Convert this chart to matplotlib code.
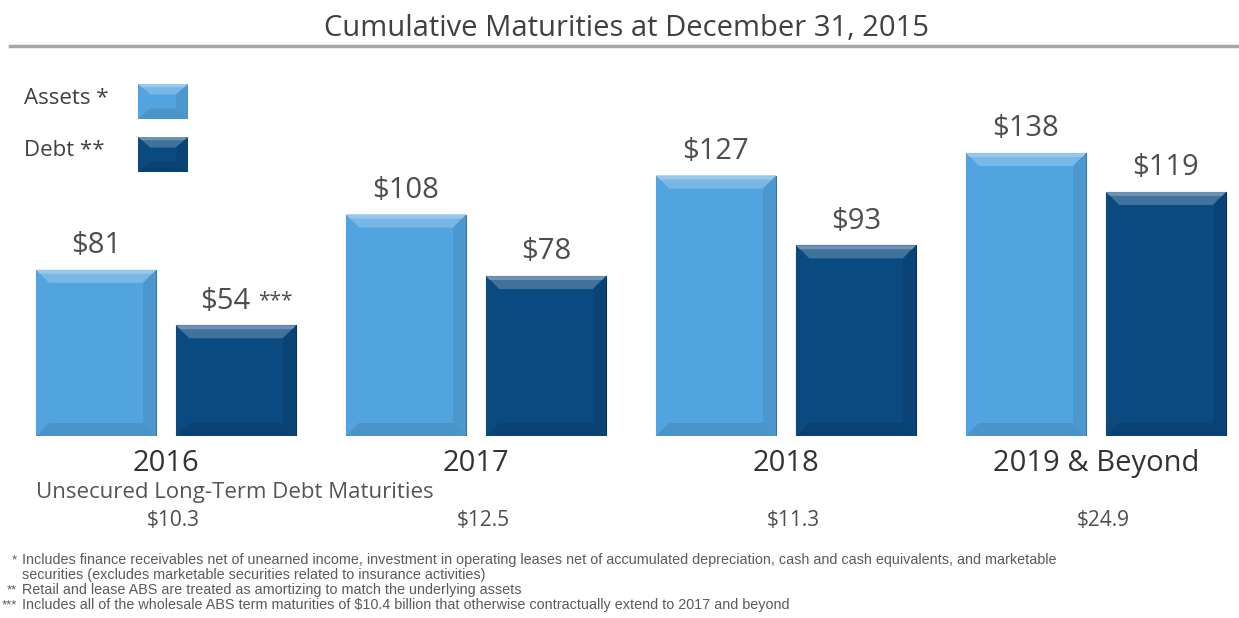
import numpy as np
import matplotlib.pyplot as plt
from matplotlib.patches import Polygon

years = ["2016", "2017", "2018", "2019 & Beyond"]
assets = [81, 108, 127, 138]
debt = [54, 78, 93, 119]
debt_notes = ["***", "", "", ""]
unsecured = ["$10.3", "$12.5", "$11.3", "$24.9"]

footnotes = [
    ("*", "Includes finance receivables net of unearned income, investment in operating leases net of accumulated depreciation, cash and cash equivalents, and marketable"),
    ("", "securities (excludes marketable securities related to insurance activities)"),
    ("**", "Retail and lease ABS are treated as amortizing to match the underlying assets"),
    ("***", "Includes all of the wholesale ABS term maturities of $10.4 billion that otherwise contractually extend to 2017 and beyond"),
]

W, H = 1239, 618
FONT = "Open Sans"
ASSET_C = "#52a4e0"
DEBT_C = "#0b4a80"


def fx(x):
    return x / W


def fy(y):
    return 1 - y / H


def shade(c, f):
    rgb = np.array(plt.matplotlib.colors.to_rgb(c))
    if f > 0:
        rgb = rgb + (1 - rgb) * f
    else:
        rgb = rgb * (1 + f)
    return tuple(np.clip(rgb, 0, 1))


def bevel(ax, rect, color, bx, by):
    # draw a bevelled look on top of a bar patch
    x0, y0 = rect.get_x(), rect.get_y()
    x1, y1 = x0 + rect.get_width(), y0 + rect.get_height()
    faces = [
        ([(x0, y1), (x1, y1), (x1 - bx, y1 - by), (x0 + bx, y1 - by)], 0.22),
        ([(x0, y0), (x0, y1), (x0 + bx, y1 - by), (x0 + bx, y0 + by)], 0.0),
        ([(x1, y0), (x1, y1), (x1 - bx, y1 - by), (x1 - bx, y0 + by)], -0.08),
        ([(x0, y0), (x1, y0), (x1 - bx, y0 + by), (x0 + bx, y0 + by)], -0.1),
    ]
    for pts, f in faces:
        ax.add_patch(Polygon(pts, closed=True, facecolor=shade(color, f),
                             edgecolor="none", zorder=3))
    # thin bright strip on the top edge
    ax.add_patch(Polygon([(x0, y1), (x1, y1), (x1 - bx * 0.3, y1 - by * 0.3),
                          (x0 + bx * 0.3, y1 - by * 0.3)], closed=True,
                         facecolor=shade(color, 0.4), edgecolor="none", zorder=3))
    rect.set_edgecolor(shade(color, -0.3))
    rect.set_linewidth(0.8)


fig = plt.figure(figsize=(W / 100, H / 100), dpi=100)

# plot area: bar bottoms at y=436 px, 310 px per group, 2.05 px per unit
unit_x, unit_y = 310.0, 2.05
x_first = 166.0
ax = fig.add_axes([0, fy(436), 1, (436 - 80) / H])
ax.set_xlim(-x_first / unit_x, (W - x_first) / unit_x)
ax.set_ylim(0, (436 - 80) / unit_y)
ax.axis("off")

idx = np.arange(len(years))
bw = 120 / unit_x
off = 70 / unit_x
bars_a = ax.bar(idx - off, assets, width=bw, color=ASSET_C, zorder=2)
bars_d = ax.bar(idx + off, debt, width=bw, color=DEBT_C, zorder=2)
for r in bars_a:
    bevel(ax, r, ASSET_C, 13 / unit_x, 13 / unit_y)
for r in bars_d:
    bevel(ax, r, DEBT_C, 13 / unit_x, 13 / unit_y)

lab = dict(textcoords="offset points", va="bottom", fontsize=21,
           color="#4d4d4d", family=FONT)
for i in idx:
    ax.annotate(f"${assets[i]}", (i - off, assets[i]), xytext=(0, 7), ha="center", **lab)
    if debt_notes[i]:
        ax.annotate(f"${debt[i]}", (i + off + 14 / unit_x, debt[i]), xytext=(0, 7),
                    ha="right", **lab)
        ax.annotate(debt_notes[i], (i + off + 22 / unit_x, debt[i]), xytext=(0, 10),
                    textcoords="offset points", ha="left", va="bottom",
                    fontsize=15, color="#4d4d4d", family=FONT)
    else:
        ax.annotate(f"${debt[i]}", (i + off, debt[i]), xytext=(0, 7), ha="center", **lab)
    ax.annotate(years[i], (i, 0), xytext=(0, -20), textcoords="offset points",
                ha="center", va="center", fontsize=21, color="#333333", family=FONT)
    ax.annotate(unsecured[i], (i + 0.025, 0), xytext=(0, -61), textcoords="offset points",
                ha="center", va="center", fontsize=15, color="#4d4d4d", family=FONT)

ax.annotate("Unsecured Long-Term Debt Maturities", (-off - bw / 2, 0), xytext=(0, -41),
            textcoords="offset points", ha="left", va="center", fontsize=16,
            color="#555555", family=FONT)

# title and rule
fig.text(fx(627), fy(28), "Cumulative Maturities at December 31, 2015", ha="center",
         va="center", fontsize=21, color="#404040", family=FONT)
fig.add_artist(plt.Line2D([fx(10), fx(1239)], [fy(46), fy(46)], color="#a6a6a6", lw=2.5))

# legend
for label, y, c in [("Assets *", 101, ASSET_C), ("Debt **", 154, DEBT_C)]:
    fig.text(fx(24), fy(y - 3), label, ha="left", va="center", fontsize=16,
             color="#404040", family=FONT)
    lax = fig.add_axes([fx(138), fy(y + 18), fx(50), 35 / H])
    lax.set_xlim(0, 1)
    lax.set_ylim(0, 1)
    lax.axis("off")
    r = lax.bar([0.5], [1], width=1, color=c)[0]
    bevel(lax, r, c, 0.24, 0.3)

# footnotes
for k, (mark, txt) in enumerate(footnotes):
    y = 560 + 15 * k
    if mark:
        fig.text(fx(17), fy(y), mark, ha="right", va="center", fontsize=9.5,
                 color="#5a5a5a", family="Liberation Sans")
    fig.text(fx(22), fy(y), txt, ha="left", va="center", fontsize=10.4,
             color="#5a5a5a", family="Liberation Sans")

fig.savefig("out.png", dpi=100, facecolor="white")
